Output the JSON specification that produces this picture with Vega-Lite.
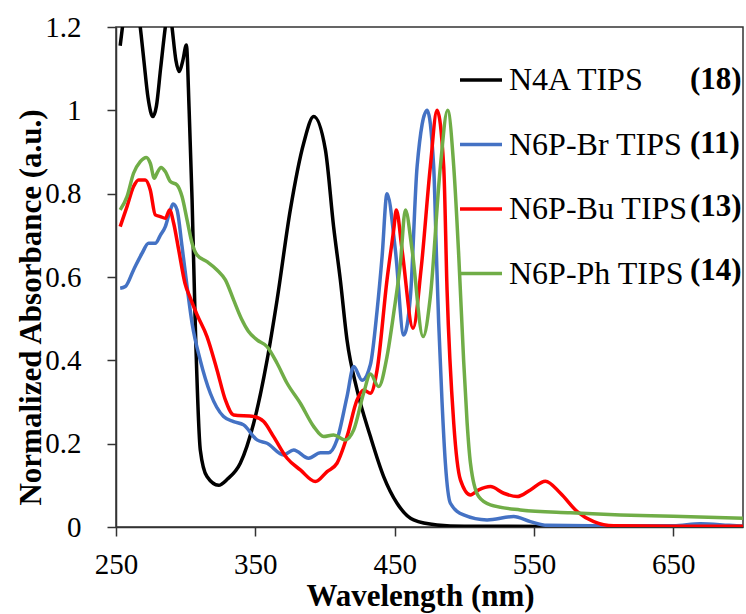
{
  "$schema": "https://vega.github.io/schema/vega-lite/v6.json",
  "width": 627,
  "height": 500,
  "autosize": {"type": "none"},
  "padding": {"left": 116, "top": 27, "right": 3, "bottom": 87},
  "background": "white",
  "config": {
    "font": "Liberation Serif",
    "view": {"stroke": "#333333", "strokeWidth": 1.5},
    "axis": {
      "grid": false,
      "domainColor": "#333333",
      "domainWidth": 1.5,
      "tickColor": "#333333",
      "tickWidth": 1.5,
      "tickSize": 9,
      "labelFlush": false,
      "labelOverlap": false,
      "labelFont": "Liberation Serif",
      "labelFontSize": 29,
      "labelColor": "black",
      "titleFont": "Liberation Serif",
      "titleFontSize": 31,
      "titleFontWeight": "bold",
      "titleColor": "black"
    }
  },
  "datasets": {
    "n4a": [
      {"w": 253, "a": 1.155}, {"w": 255, "a": 1.21}, {"w": 258, "a": 1.3}, {"w": 262, "a": 1.32},
      {"w": 265, "a": 1.26}, {"w": 267.4, "a": 1.2}, {"w": 270, "a": 1.12}, {"w": 273, "a": 1.03},
      {"w": 276.5, "a": 0.985}, {"w": 279, "a": 1.01}, {"w": 282, "a": 1.1}, {"w": 285.4, "a": 1.2},
      {"w": 288, "a": 1.26}, {"w": 290.2, "a": 1.2}, {"w": 293, "a": 1.12}, {"w": 295.4, "a": 1.093},
      {"w": 298, "a": 1.12}, {"w": 300.5, "a": 1.157}, {"w": 302.5, "a": 1.0}, {"w": 304.6, "a": 0.785},
      {"w": 307, "a": 0.473}, {"w": 310.5, "a": 0.185}, {"w": 315.3, "a": 0.121}, {"w": 323.7, "a": 0.1},
      {"w": 330, "a": 0.115}, {"w": 339.2, "a": 0.153}, {"w": 348.8, "a": 0.249}, {"w": 358.4, "a": 0.4},
      {"w": 365.6, "a": 0.545}, {"w": 375.1, "a": 0.761}, {"w": 384.7, "a": 0.921}, {"w": 391.9, "a": 0.985},
      {"w": 400.3, "a": 0.905}, {"w": 406.2, "a": 0.72}, {"w": 411, "a": 0.593}, {"w": 415.8, "a": 0.449},
      {"w": 423, "a": 0.329}, {"w": 432.6, "a": 0.217}, {"w": 442.1, "a": 0.121}, {"w": 451.7, "a": 0.057},
      {"w": 463.6, "a": 0.017}, {"w": 480.4, "a": 0.005}, {"w": 500, "a": 0.002}, {"w": 600, "a": 0.001},
      {"w": 700, "a": 0.001}
    ],
    "br": [
      {"w": 253, "a": 0.573}, {"w": 256.7, "a": 0.577}, {"w": 262.6, "a": 0.617}, {"w": 268.7, "a": 0.657},
      {"w": 273.4, "a": 0.681}, {"w": 278.2, "a": 0.681}, {"w": 281.8, "a": 0.7}, {"w": 285.4, "a": 0.721},
      {"w": 289, "a": 0.761}, {"w": 291, "a": 0.775}, {"w": 293.8, "a": 0.761}, {"w": 297.4, "a": 0.673},
      {"w": 301, "a": 0.577}, {"w": 304.6, "a": 0.489}, {"w": 310.5, "a": 0.4}, {"w": 317.7, "a": 0.321},
      {"w": 327.2, "a": 0.265}, {"w": 334.4, "a": 0.253}, {"w": 341.6, "a": 0.245}, {"w": 351.2, "a": 0.209},
      {"w": 358.4, "a": 0.201}, {"w": 370.3, "a": 0.173}, {"w": 377.5, "a": 0.185}, {"w": 388.3, "a": 0.165},
      {"w": 396.7, "a": 0.178}, {"w": 402.6, "a": 0.178}, {"w": 408.6, "a": 0.209}, {"w": 415.8, "a": 0.313},
      {"w": 420.6, "a": 0.385}, {"w": 426.6, "a": 0.352}, {"w": 432.6, "a": 0.39}, {"w": 437.4, "a": 0.52},
      {"w": 441, "a": 0.65}, {"w": 444.5, "a": 0.8}, {"w": 450.5, "a": 0.665}, {"w": 456.5, "a": 0.461},
      {"w": 461.3, "a": 0.553}, {"w": 466.1, "a": 0.865}, {"w": 473.3, "a": 1.0}, {"w": 478, "a": 0.865},
      {"w": 480, "a": 0.65}, {"w": 481.6, "a": 0.489}, {"w": 484, "a": 0.3}, {"w": 486.4, "a": 0.153},
      {"w": 490, "a": 0.057}, {"w": 499.5, "a": 0.029}, {"w": 516.3, "a": 0.017}, {"w": 535.4, "a": 0.025},
      {"w": 547.4, "a": 0.013}, {"w": 559.4, "a": 0.004}, {"w": 600, "a": 0.003}, {"w": 650, "a": 0.003},
      {"w": 669.4, "a": 0.008}, {"w": 690, "a": 0.004}, {"w": 700, "a": 0.002}
    ],
    "bu": [
      {"w": 253, "a": 0.721}, {"w": 257.9, "a": 0.769}, {"w": 262.6, "a": 0.817}, {"w": 266.2, "a": 0.833},
      {"w": 271, "a": 0.833}, {"w": 274.6, "a": 0.809}, {"w": 278.2, "a": 0.749}, {"w": 281.8, "a": 0.745},
      {"w": 285.4, "a": 0.741}, {"w": 288.5, "a": 0.761}, {"w": 291.4, "a": 0.729}, {"w": 295, "a": 0.665},
      {"w": 299.5, "a": 0.585}, {"w": 303.3, "a": 0.55}, {"w": 308.1, "a": 0.51}, {"w": 315.3, "a": 0.457},
      {"w": 322.5, "a": 0.377}, {"w": 328.5, "a": 0.305}, {"w": 334.4, "a": 0.269}, {"w": 348.8, "a": 0.265},
      {"w": 356, "a": 0.253}, {"w": 363.1, "a": 0.217}, {"w": 372.8, "a": 0.165}, {"w": 382.3, "a": 0.137},
      {"w": 393.1, "a": 0.109}, {"w": 401.5, "a": 0.133}, {"w": 408.6, "a": 0.153}, {"w": 415.8, "a": 0.217},
      {"w": 423, "a": 0.305}, {"w": 427.7, "a": 0.329}, {"w": 432.6, "a": 0.321}, {"w": 437.4, "a": 0.377},
      {"w": 444.5, "a": 0.593}, {"w": 449.3, "a": 0.713}, {"w": 451.2, "a": 0.761}, {"w": 455.3, "a": 0.665},
      {"w": 463.2, "a": 0.477}, {"w": 469, "a": 0.62}, {"w": 475.6, "a": 0.865}, {"w": 480.4, "a": 1.0},
      {"w": 485.2, "a": 0.865}, {"w": 487.6, "a": 0.569}, {"w": 492.4, "a": 0.249}, {"w": 497.2, "a": 0.113},
      {"w": 504.4, "a": 0.077}, {"w": 510.3, "a": 0.089}, {"w": 518.7, "a": 0.097}, {"w": 528.3, "a": 0.081},
      {"w": 537.9, "a": 0.073}, {"w": 547.4, "a": 0.089}, {"w": 558.2, "a": 0.11}, {"w": 569, "a": 0.081},
      {"w": 581, "a": 0.037}, {"w": 592.9, "a": 0.013}, {"w": 607.2, "a": 0.003}, {"w": 650, "a": 0.002},
      {"w": 700, "a": 0.002}
    ],
    "ph": [
      {"w": 253, "a": 0.761}, {"w": 257.9, "a": 0.793}, {"w": 262.6, "a": 0.849}, {"w": 267.4, "a": 0.877},
      {"w": 271.8, "a": 0.887}, {"w": 274.6, "a": 0.873}, {"w": 277.5, "a": 0.837}, {"w": 279.4, "a": 0.849},
      {"w": 282.3, "a": 0.863}, {"w": 285.4, "a": 0.853}, {"w": 289, "a": 0.829}, {"w": 293.8, "a": 0.821},
      {"w": 297.4, "a": 0.793}, {"w": 301, "a": 0.737}, {"w": 304.6, "a": 0.681}, {"w": 308.1, "a": 0.653},
      {"w": 315.3, "a": 0.637}, {"w": 322.5, "a": 0.617}, {"w": 328.5, "a": 0.593}, {"w": 334.4, "a": 0.545},
      {"w": 340, "a": 0.5}, {"w": 345, "a": 0.47}, {"w": 351.2, "a": 0.449}, {"w": 358.4, "a": 0.433},
      {"w": 365.6, "a": 0.393}, {"w": 372.8, "a": 0.345}, {"w": 382.3, "a": 0.297}, {"w": 391.9, "a": 0.241},
      {"w": 399, "a": 0.217}, {"w": 406.2, "a": 0.221}, {"w": 414.6, "a": 0.209}, {"w": 420.6, "a": 0.233},
      {"w": 427.7, "a": 0.321}, {"w": 432.6, "a": 0.367}, {"w": 438.5, "a": 0.337}, {"w": 444.5, "a": 0.409},
      {"w": 449.3, "a": 0.513}, {"w": 454.1, "a": 0.633}, {"w": 457.7, "a": 0.761}, {"w": 462.5, "a": 0.665},
      {"w": 470.4, "a": 0.457}, {"w": 475.6, "a": 0.553}, {"w": 482.8, "a": 0.865}, {"w": 488, "a": 1.0},
      {"w": 492.4, "a": 0.865}, {"w": 496, "a": 0.65}, {"w": 499.5, "a": 0.4}, {"w": 502, "a": 0.25},
      {"w": 504.4, "a": 0.153}, {"w": 510.3, "a": 0.073}, {"w": 518.7, "a": 0.053}, {"w": 540.2, "a": 0.041},
      {"w": 576.1, "a": 0.034}, {"w": 612, "a": 0.029}, {"w": 650, "a": 0.026}, {"w": 700, "a": 0.021}
    ]
  },
  "encoding": {
    "x": {
      "field": "w", "type": "quantitative",
      "scale": {"domain": [250, 700], "nice": false, "zero": false},
      "axis": {
        "title": "Wavelength (nm)",
        "values": [250, 350, 450, 550, 650],
        "labelPadding": 14,
        "titleX": 304, "titleY": 78, "titleBaseline": "alphabetic", "titleAnchor": "middle"
      }
    },
    "y": {
      "field": "a", "type": "quantitative",
      "scale": {"domain": [0, 1.2], "nice": false, "zero": false},
      "axis": {
        "title": "Normalized Absorbance  (a.u.)",
        "values": [0, 0.2, 0.4, 0.6, 0.8, 1, 1.2],
        "format": "~g",
        "labelPadding": 26,
        "titleX": -76, "titleY": 280, "titleBaseline": "alphabetic", "titleAngle": -90, "titleAnchor": "middle"
      }
    }
  },
  "layer": [
    {
      "data": {"name": "n4a"},
      "mark": {"type": "line", "clip": true, "interpolate": "monotone"},
      "encoding": {
        "color": {
          "datum": "N4A TIPS", "type": "nominal",
          "scale": {"domain": ["N4A TIPS", "N6P-Br TIPS", "N6P-Bu TIPS", "N6P-Ph TIPS"], "range": ["#000000", "#4472C4", "#FF0000", "#70AD47"]},
          "legend": {
            "title": null, "orient": "none", "legendX": 342, "legendY": 30, "padding": 0,
            "symbolType": "stroke", "symbolSize": 1764, "symbolStrokeWidth": 3.5,
            "labelFont": "Liberation Serif", "labelFontSize": 32, "labelColor": "black",
            "labelOffset": 5, "rowPadding": 25.5, "labelLimit": 400
          }
        },
        "strokeWidth": {
          "datum": "(18)", "type": "nominal",
          "scale": {"domain": ["(18)", "(11)", "(13)", "(14)"], "range": [3.5, 3.5]},
          "legend": {
            "title": null, "orient": "none", "legendX": 523, "legendY": 30, "padding": 0,
            "symbolType": "stroke", "symbolSize": 1764, "symbolOpacity": 0, "symbolStrokeColor": "transparent",
            "labelFont": "Liberation Serif", "labelFontSize": 31, "labelFontWeight": "bold", "labelColor": "black",
            "labelOffset": 5, "rowPadding": 25.5, "labelLimit": 400
          }
        }
      }
    },
    {
      "data": {"name": "br"},
      "mark": {"type": "line", "clip": true, "interpolate": "monotone"},
      "encoding": {
        "color": {"datum": "N6P-Br TIPS", "type": "nominal"},
        "strokeWidth": {"datum": "(11)", "type": "nominal"}
      }
    },
    {
      "data": {"name": "bu"},
      "mark": {"type": "line", "clip": true, "interpolate": "monotone"},
      "encoding": {
        "color": {"datum": "N6P-Bu TIPS", "type": "nominal"},
        "strokeWidth": {"datum": "(13)", "type": "nominal"}
      }
    },
    {
      "data": {"name": "ph"},
      "mark": {"type": "line", "clip": true, "interpolate": "monotone"},
      "encoding": {
        "color": {"datum": "N6P-Ph TIPS", "type": "nominal"},
        "strokeWidth": {"datum": "(14)", "type": "nominal"}
      }
    }
  ]
}
